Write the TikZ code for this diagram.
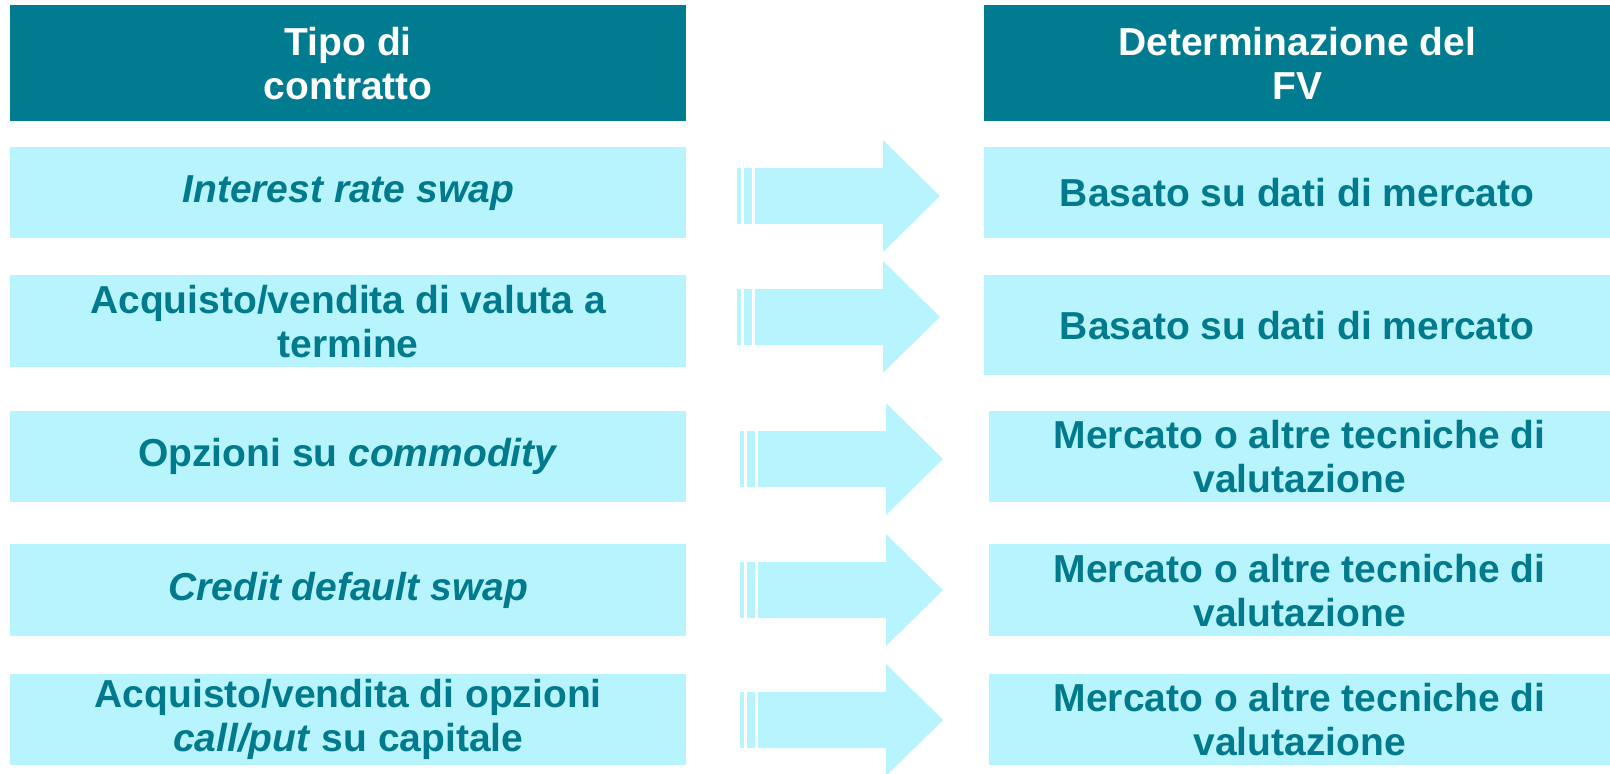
\documentclass[tikz,border=0pt]{standalone}
\usepackage{fontspec}
\setmainfont{Liberation Sans}
\definecolor{headteal}{HTML}{007B8F}
\definecolor{rowcyan}{HTML}{B8F4FE}
\definecolor{rowtext}{HTML}{007A8C}
\tikzset{
  headbox/.style={fill=headteal, text=white, font=\bfseries\fontsize{39}{44}\selectfont,
    align=center, inner sep=0pt, anchor=north west, minimum height=116pt},
  rowbox/.style={fill=rowcyan, text=rowtext, font=\bfseries\fontsize{39}{44}\selectfont,
    align=center, inner sep=0pt, anchor=north west},
  pics/fatarrow/.style={code={
    \fill[rowcyan] (0,-28) rectangle (4,28);
    \fill[rowcyan] (7,-28) rectangle (15,28);
    \fill[rowcyan] (18,-28) -- (146,-28) -- (146,-56) -- (203,0)
      -- (146,56) -- (146,28) -- (18,28) -- cycle;
  }}
}
\begin{document}
\begin{tikzpicture}[x=1pt,y=-1pt]
\useasboundingbox (0,0) rectangle (1610,774);
% headers
\node[headbox, minimum width=676pt] (tipo) at (10,5) {Tipo di\\contratto};
\node[headbox, minimum width=626pt] (det) at (984,5) {Determinazione del\\FV};
% left column
\node[rowbox, minimum width=676pt, minimum height=91pt] (irs) at (10,147) {\textit{Interest rate swap}};
\node[rowbox, minimum width=676pt, minimum height=92pt] (valuta) at (10,275) {Acquisto/vendita di valuta a\\termine};
\node[rowbox, minimum width=676pt, minimum height=91pt] (commod) at (10,411) {Opzioni su \textit{commodity}};
\node[rowbox, minimum width=676pt, minimum height=92pt] (cds) at (10,544) {\textit{Credit default swap}};
\node[rowbox, minimum width=676pt, minimum height=91pt] (opzioni) at (10,674) {Acquisto/vendita di opzioni\\\textit{call/put} su capitale};
% right column
\node[rowbox, minimum width=626pt, minimum height=91pt] (fv1) at (984,147) {Basato su dati di mercato};
\node[rowbox, minimum width=626pt, minimum height=100pt] (fv2) at (984,275) {Basato su dati di mercato};
\node[rowbox, minimum width=621pt, minimum height=91pt] (fv3) at (989,411) {Mercato o altre tecniche di\\valutazione};
\node[rowbox, minimum width=621pt, minimum height=92pt] (fv4) at (989,544) {Mercato o altre tecniche di\\valutazione};
\node[rowbox, minimum width=621pt, minimum height=91pt] (fv5) at (989,674) {Mercato o altre tecniche di\\valutazione};
% arrows
\pic at (737,196) {fatarrow};
\pic at (737,317) {fatarrow};
\pic at (740,459) {fatarrow};
\pic at (740,590) {fatarrow};
\pic at (740,720) {fatarrow};
\end{tikzpicture}
\end{document}
